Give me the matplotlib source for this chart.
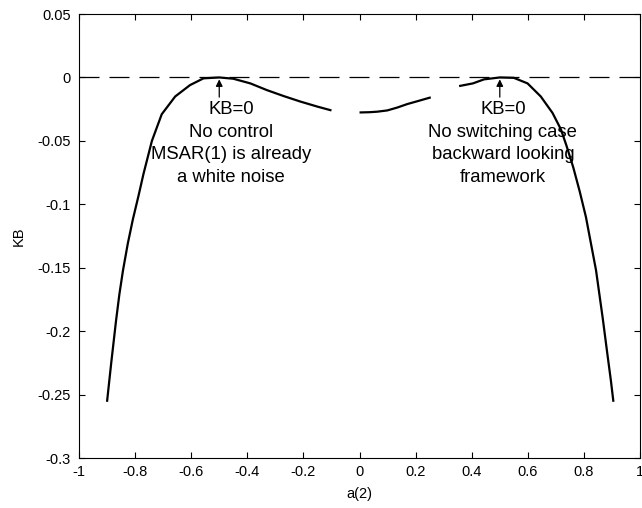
import numpy as np
import matplotlib
matplotlib.use('agg')
import matplotlib.pyplot as plt

plt.rcParams['font.family'] = ['Liberation Sans', 'DejaVu Sans']

# curve pieces (KB vs a(2))
left_a = [-0.9, -0.885, -0.868, -0.856, -0.843, -0.826, -0.808, -0.788, -0.77,
          -0.74, -0.705, -0.657, -0.604, -0.556, -0.5, -0.45, -0.389, -0.33,
          -0.27, -0.211, -0.15, -0.1]
left_kb = [-0.2557, -0.225, -0.192, -0.171, -0.152, -0.131, -0.112, -0.0935, -0.076,
           -0.050, -0.029, -0.015, -0.006, -0.0007, 0.0, -0.001, -0.0047, -0.010,
           -0.0147, -0.019, -0.023, -0.026]

mid_a = [0.0, 0.035, 0.063, 0.099, 0.135, 0.17, 0.21, 0.254]
mid_kb = [-0.0276, -0.0274, -0.027, -0.026, -0.0237, -0.021, -0.0185, -0.0157]

right_a = [0.355, 0.404, 0.444, 0.5, 0.55, 0.599, 0.646, 0.688, 0.718, 0.738,
           0.762, 0.785, 0.807, 0.825, 0.843, 0.855, 0.867, 0.884, 0.896, 0.905]
right_kb = [-0.0068, -0.0047, -0.0015, 0.0, -0.0003, -0.0047, -0.015, -0.028, -0.041,
            -0.054, -0.071, -0.090, -0.110, -0.131, -0.152, -0.171, -0.19, -0.219,
            -0.239, -0.2557]

xticks = [-1, -0.8, -0.6, -0.4, -0.2, 0, 0.2, 0.4, 0.6, 0.8, 1]
xticklabels = ['-1', '-0.8', '-0.6', '-0.4', '-0.2', '0', '0.2', '0.4', '0.6', '0.8', '1']
yticks = [-0.3, -0.25, -0.2, -0.15, -0.1, -0.05, 0, 0.05]
yticklabels = ['-0.3', '-0.25', '-0.2', '-0.15', '-0.1', '-0.05', '0', '0.05']

left_note = 'KB=0\nNo control\nMSAR(1) is already\na white noise'
right_note = 'KB=0\nNo switching case\nbackward looking\nframework'

fig = plt.figure(figsize=(6.42, 5.08), dpi=100, facecolor='white')
ax = fig.add_axes([0.123, 0.0984, 0.874, 0.874])

ax.axhline(0, color='black', lw=0.9, dashes=(16, 8))
for xs, ys in [(left_a, left_kb), (mid_a, mid_kb), (right_a, right_kb)]:
    ax.plot(xs, ys, color='black', lw=1.6, solid_capstyle='butt',
            solid_joinstyle='round')

# annotations with small arrows pointing at the two KB=0 peaks
for xa, xt, txt in [(-0.5, -0.457, left_note), (0.5, 0.511, right_note)]:
    ax.annotate('', xy=(xa, -0.0015), xytext=(xa, -0.0155),
                arrowprops=dict(arrowstyle='-|>', color='black', lw=0.9,
                                mutation_scale=10, shrinkA=0, shrinkB=0))
    ax.text(xt, -0.052, txt, ha='center', va='center', fontsize=13.3,
            linespacing=1.43, color='black')

ax.set_xlim(-1, 1)
ax.set_ylim(-0.3, 0.05)
ax.set_xticks(xticks)
ax.set_xticklabels(xticklabels)
ax.set_yticks(yticks)
ax.set_yticklabels(yticklabels)
ax.tick_params(direction='in', length=4, width=0.8, top=True, right=True,
               labelsize=10.5)
ax.tick_params(axis='y', pad=6)
ax.tick_params(axis='x', pad=5)
for s in ax.spines.values():
    s.set_linewidth(0.8)
ax.set_xlabel('a(2)', fontsize=10.5, labelpad=6)
ax.set_ylabel('KB', fontsize=10.5, labelpad=8)

fig.savefig('out.png', dpi=100)
